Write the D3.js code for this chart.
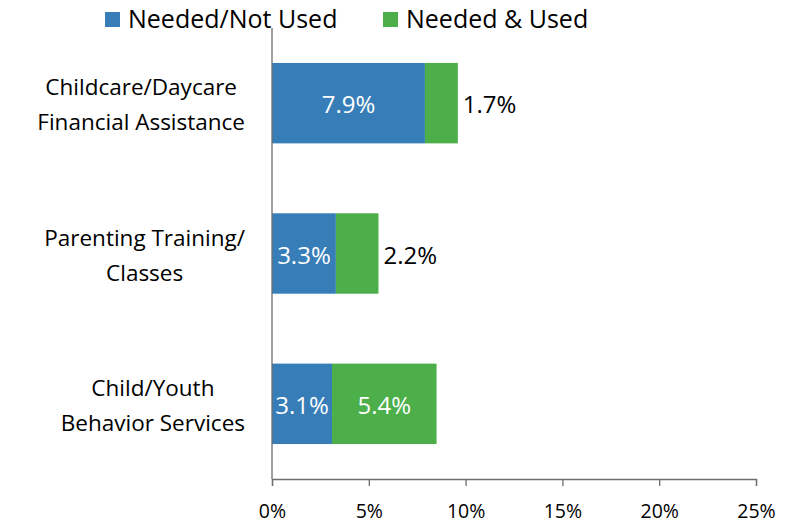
<!DOCTYPE html>
<html>
<head>
<meta charset="utf-8">
<script src="https://cdn.jsdelivr.net/npm/d3@7"></script>
<style>
  html, body { margin: 0; padding: 0; background: #fff; overflow: hidden; }
  svg { display: block; }
  text { font-family: "Open Sans", sans-serif; }
</style>
</head>
<body>
<svg id="chart" width="791" height="523"></svg>
<script>
// chart data
var categories = [
    ["Childcare/Daycare", "Financial Assistance"],
    ["Parenting Training/", "Classes"],
    ["Child/Youth", "Behavior Services"]
];
var notUsed = [7.9, 3.3, 3.1];
var used = [1.7, 2.2, 5.4];
var seriesNames = ["Needed/Not Used", "Needed & Used"];
var seriesColors = ["#377eb8", "#4daf4a"];
var tickValues = [0, 5, 10, 15, 20, 25];

var svg = d3.select("#chart");
var margin = {top: 28, left: 272};
var plotH = 451;

var x = d3.scaleLinear().domain([0, 25]).range([0, 484]);
var y = d3.scaleBand().domain(d3.range(categories.length))
    .range([0, plotH]).paddingInner(0.465).paddingOuter(0.2325);

var g = svg.append("g").attr("transform", "translate(" + margin.left + "," + margin.top + ")");

// bars
categories.forEach(function(c, i) {
    var a = notUsed[i], b = used[i];
    g.append("rect")
        .attr("x", x(0)).attr("y", y(i))
        .attr("width", x(a) - x(0)).attr("height", y.bandwidth())
        .attr("fill", seriesColors[0]);
    g.append("rect")
        .attr("x", x(a)).attr("y", y(i))
        .attr("width", x(a + b) - x(a)).attr("height", y.bandwidth())
        .attr("fill", seriesColors[1]);

    var mid = y(i) + y.bandwidth() / 2;
    g.append("text")
        .attr("x", (x(0) + x(a)) / 2).attr("y", mid + 10)
        .attr("text-anchor", "middle").attr("fill", "#fff")
        .style("font-size", "24px")
        .text(a.toFixed(1) + "%");
    // green label inside if wide enough, else outside
    var inside = (x(a + b) - x(a)) > 60;
    g.append("text")
        .attr("x", inside ? (x(a) + x(a + b)) / 2 : x(a + b) + 5)
        .attr("y", mid + 10)
        .attr("text-anchor", inside ? "middle" : "start")
        .attr("fill", inside ? "#fff" : "#000")
        .style("font-size", "24px")
        .text(b.toFixed(1) + "%");

    // category labels, lines centred, longest line ends near the axis
    var lab = g.append("text")
        .attr("text-anchor", "middle")
        .attr("fill", "#000")
        .style("font-size", "22.5px");
    var spans = c.map(function(line, k) {
        return lab.append("tspan")
            .attr("y", mid - 8 + k * 35)
            .text(line);
    });
    var maxW = d3.max(spans, function(s) { return s.node().getComputedTextLength(); });
    spans.forEach(function(s) { s.attr("x", -27 - maxW / 2); });
});

// axes
g.append("line")
    .attr("x1", 0).attr("x2", 0).attr("y1", 0).attr("y2", plotH)
    .attr("stroke", "#6e6e6e").attr("stroke-width", 1.3);

var xAxis = g.append("g")
    .attr("transform", "translate(0," + plotH + ")")
    .call(d3.axisBottom(x).tickValues(tickValues).tickSize(7).tickPadding(18)
        .tickFormat(function(d) { return d + "%"; }));
xAxis.select(".domain").attr("stroke", "#6e6e6e").attr("stroke-width", 1.3);
xAxis.selectAll(".tick line").attr("stroke", "#6e6e6e").attr("stroke-width", 1.3);
xAxis.selectAll(".tick text")
    .style("font-size", "19.5px")
    .style("font-family", "'Open Sans', sans-serif")
    .attr("fill", "#000");

// legend
var legendX = [105, 383];
seriesNames.forEach(function(name, i) {
    svg.append("rect")
        .attr("x", legendX[i]).attr("y", 12)
        .attr("width", 15).attr("height", 15)
        .attr("fill", seriesColors[i]);
    svg.append("text")
        .attr("x", legendX[i] + 23).attr("y", 28)
        .attr("fill", "#000")
        .style("font-size", "25px")
        .text(name);
});
</script>
</body>
</html>
